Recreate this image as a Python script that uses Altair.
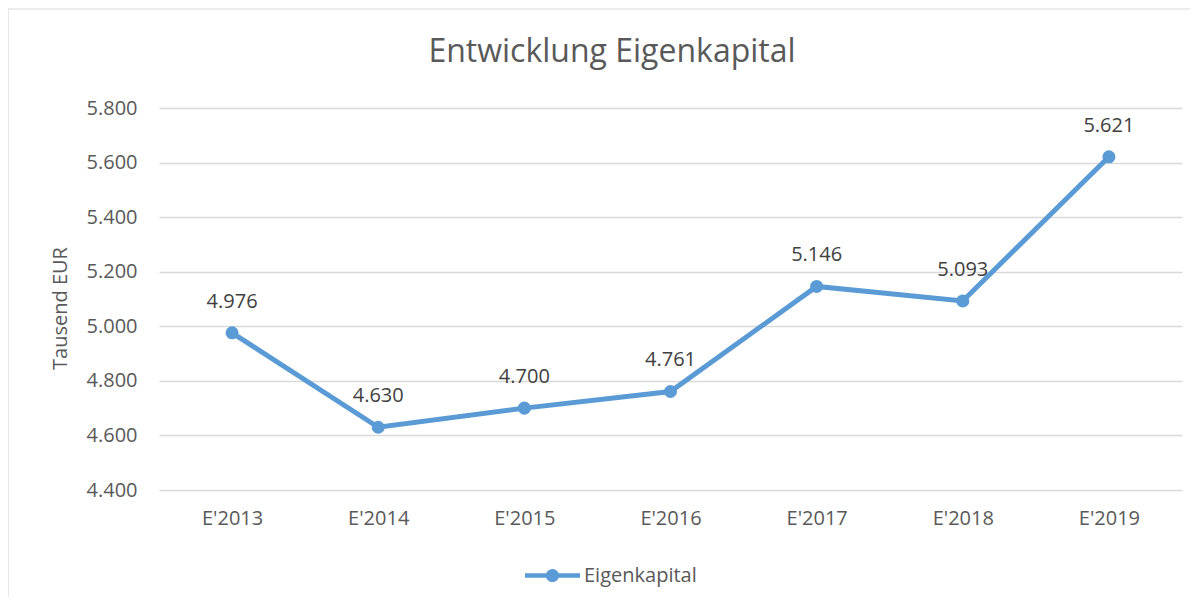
import altair as alt
import pandas as pd

categories = ["E'2013", "E'2014", "E'2015", "E'2016", "E'2017", "E'2018", "E'2019"]
values = [4976, 4630, 4700, 4761, 5146, 5093, 5621]
series_name = "Eigenkapital"
y_ticks = [4400, 4600, 4800, 5000, 5200, 5400, 5600, 5800]

df = pd.DataFrame({
    "Jahr": categories,
    "Wert": values,
    "Serie": [series_name] * len(categories),
    "Label": [f"{v:,}".replace(",", ".") for v in values],
})

FONT = "Open Sans"
BLUE = "#5B9BD5"
GRID = "#D9D9D9"

W, H = 1023, 382

legend_path = ("M-1,-0.08L1,-0.08L1,0.08L-1,0.08Z "
               "M-0.24,0A0.24,0.24 0 1,1 0.24,0A0.24,0.24 0 1,1 -0.24,0Z")

x_enc = alt.X("Jahr:N", sort=categories, scale=alt.Scale(padding=0.5),
              axis=alt.Axis(title=None, labelAngle=0, labelFont=FONT, labelFontSize=20,
                            labelColor="#595959", ticks=False, domain=False,
                            labelPadding=18, labelBaseline="top", grid=False))
y_enc = alt.Y("Wert:Q", scale=alt.Scale(domain=[4400, 5800], nice=False, zero=False),
              axis=alt.Axis(values=y_ticks, title="Tausend EUR",
                            labelExpr="replace(format(datum.value, ',.0f'), ',', '.')",
                            labelFont=FONT, labelFontSize=20, labelColor="#595959",
                            labelPadding=22, ticks=False, domain=False,
                            grid=True, gridColor=GRID, gridWidth=1.3,
                            titleFont=FONT, titleFontSize=20, titleFontWeight="normal",
                            titleColor="#595959", titleAngle=-90, titleX=-99, titleY=200,
                            titleAlign="center", titleBaseline="middle"))

frame = alt.Chart(alt.Data(values=[{}])).mark_rect(
    fill=None, stroke=GRID, strokeWidth=1.2
).encode(x=alt.value(-151), y=alt.value(-99), x2=alt.value(1300), y2=alt.value(700))

line = alt.Chart(df).mark_line(strokeWidth=5, point=alt.OverlayMarkDef(size=170, filled=True, opacity=1)).encode(
    x=x_enc, y=y_enc,
    color=alt.Color("Serie:N", scale=alt.Scale(range=[BLUE]),
                    legend=alt.Legend(title=None, orient="none", legendX=366, legendY=440,
                                      symbolType=legend_path, symbolSize=3025,
                                      symbolFillColor=BLUE, symbolStrokeWidth=0,
                                      labelFont=FONT, labelFontSize=20, labelColor="#595959",
                                      labelOffset=4, padding=0))
)

labels = alt.Chart(df).mark_text(font=FONT, fontSize=20, color="#404040",
                                 baseline="alphabetic", dy=-25).encode(
    x=alt.X("Jahr:N", sort=categories), y="Wert:Q", text="Label:N")

title = alt.Chart(alt.Data(values=[{}])).mark_text(
    font=FONT, fontSize=32, color="#595959", baseline="alphabetic", align="center"
).encode(x=alt.value(453), y=alt.value(-46), text=alt.value("Entwicklung Eigenkapital"))

chart = alt.layer(frame, line, labels, title).properties(
    width=W, height=H,
    autosize=alt.AutoSizeParams(type="none"),
    padding={"left": 151, "top": 100, "right": 8, "bottom": 107},
).configure(background="white").configure_view(strokeWidth=0, stroke="transparent")

chart.save("out.html", embed_options={"renderer": "svg", "actions": False})
